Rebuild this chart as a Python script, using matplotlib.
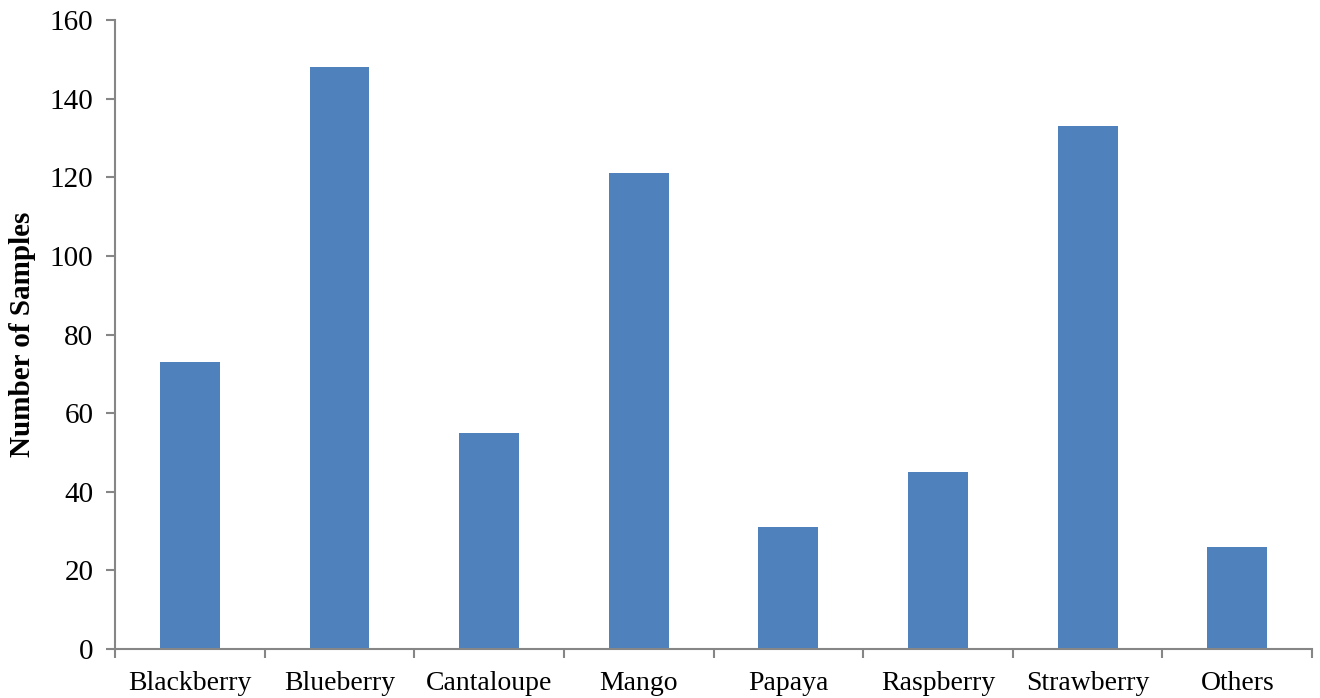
import numpy as np
import matplotlib.pyplot as plt

# data
fruits = ['Blackberry', 'Blueberry', 'Cantaloupe', 'Mango', 'Papaya',
          'Raspberry', 'Strawberry', 'Others']
samples = [73, 148, 55, 121, 31, 45, 133, 26]

plt.rcParams['font.family'] = ['Liberation Serif', 'DejaVu Serif']

fig = plt.figure(figsize=(13.2, 6.98), dpi=100)
ax = fig.add_axes([0.0871, 0.0702, 0.9069, 0.9011])

x = np.arange(len(fruits))
ax.bar(x, samples, width=0.4, color='#4F81BD')

ax.set_xlim(-0.5, len(fruits) - 0.5)
ax.set_ylim(0, 160)
ax.set_yticks(range(0, 161, 20))

# tick marks between categories, labels centred under bars
ax.set_xticks(np.arange(-0.5, len(fruits), 1.0))
ax.set_xticklabels([])
ax.set_xticks(x, minor=True)
ax.set_xticklabels(fruits, minor=True)
ax.tick_params(axis='x', which='minor', length=0, pad=16, labelsize=20)
ax.tick_params(axis='x', which='major', length=6.5, color='#868686', width=1.5)
ax.tick_params(axis='y', length=6.5, color='#868686', width=1.5, labelsize=21, pad=9)

for side in ['top', 'right']:
    ax.spines[side].set_visible(False)
for side in ['left', 'bottom']:
    ax.spines[side].set_color('#868686')
    ax.spines[side].set_linewidth(1.5)

ax.set_ylabel('Number of Samples', fontsize=21, fontweight='bold', labelpad=10)

fig.savefig('out.png', dpi=100)
